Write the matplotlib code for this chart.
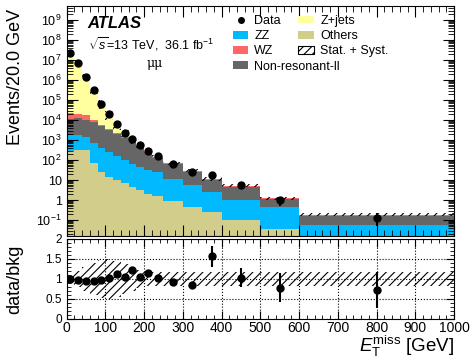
import numpy as np
import matplotlib
matplotlib.use("Agg")
from matplotlib import pyplot as plt
from matplotlib.patches import Patch
from matplotlib.lines import Line2D
from matplotlib.ticker import MultipleLocator, LogLocator, FuncFormatter, FormatStrFormatter, NullFormatter

plt.rcParams['font.family'] = ['Liberation Sans', 'DejaVu Sans']
plt.rcParams['mathtext.fontset'] = 'custom'
plt.rcParams['mathtext.rm'] = 'Liberation Sans'
plt.rcParams['mathtext.it'] = 'Liberation Sans:italic'
plt.rcParams['mathtext.bf'] = 'Liberation Sans:bold'
plt.rcParams['hatch.linewidth'] = 0.8

# bin edges in GeV
edges = [0, 20, 40, 60, 80, 100, 120, 140, 160, 180, 200, 220, 250, 300, 350, 400, 500, 600, 1000]

# backgrounds, events / 20 GeV
others = [282, 316, 316, 68, 26, 15, 10, 6.8, 4.7, 3.2, 2.1, 1.6, 0.89, 0.43, 0.26, 0.10, 0.034, 0.003]
zz = [1500, 1460, 1160, 690, 400, 250, 148, 93, 63, 44, 29.5, 23.5, 11.1, 5.2, 2.4, 0.97, 0.43, 0.057]
nonres = [10200, 11400, 9240, 7180, 4590, 2900, 1840, 1220, 730, 400, 192, 107, 51, 20.7, 7.4, 3.5, 0.63, 0.098]
wz = [11400, 8200, 7070, 2060, 880, 470, 295, 195, 97, 55, 27, 16, 7.7, 3.2, 1.2, 0.56, 0.13, 0.019]
zjets = [2.136e7, 7.74e6, 1.53e6, 3.21e5, 6.33e4, 1.59e4, 3330, 780, 21, 23, 6, 3, 1.6, 0.7, 0.2, 0.1, 0.05, 0.01]

# relative stat+syst uncertainty on the background
bkg_relerr = [0.13, 0.2, 0.3, 0.4, 0.48, 0.5, 0.45, 0.38, 0.3, 0.22, 0.17, 0.17, 0.17, 0.17, 0.18, 0.18, 0.18, 0.18]

# data
data = [2.16e7, 7.59e6, 1.46e6, 3.16e5, 6.76e4, 2.0e4, 6310, 2400, 1110, 550, 292, 156, 66.5, 25.4, 17.9, 5.4, 1.0, 0.135]
data_relerr = [0.001, 0.001, 0.002, 0.003, 0.005, 0.01, 0.015, 0.02, 0.03, 0.04, 0.05, 0.05, 0.06, 0.08, 0.17, 0.23, 0.47, 0.62]

col_others = '#d3cd8b'
col_zz = '#00b9ff'
col_wz = '#ff6666'
col_nonres = '#666666'
col_zjets = '#ffffa0'

edges = np.array(edges)
centers = 0.5 * (edges[1:] + edges[:-1])
widths = np.diff(edges)
total = np.array(others) + np.array(zz) + np.array(nonres) + np.array(wz) + np.array(zjets)
bkg_err = total * np.array(bkg_relerr)
data = np.array(data)
data_err = data * np.array(data_relerr)

fig = plt.figure(figsize=(4.72, 3.62), dpi=100)
ax1 = fig.add_axes([0.141, 0.348, 0.821, 0.635])
ax2 = fig.add_axes([0.141, 0.119, 0.821, 0.221])

# ---- main panel
ax1.hist([centers] * 5, bins=edges, weights=[others, zz, nonres, wz, zjets],
         stacked=True, histtype='stepfilled', linewidth=0,
         color=[col_others, col_zz, col_nonres, col_wz, col_zjets])
ax1.bar(edges[:-1], 2 * bkg_err, width=widths, bottom=total - bkg_err, align='edge',
        color='none', edgecolor='black', hatch='////', linewidth=0)
ax1.errorbar(centers, data, yerr=data_err, fmt='o', color='black', ms=5,
             elinewidth=1.5, capsize=0)

ax1.set_yscale('log')
ax1.set_xlim(0, 1000)
ax1.set_ylim(0.016, 5e9)
ax1.yaxis.set_major_locator(LogLocator(base=10, numticks=20))
ax1.yaxis.set_minor_locator(LogLocator(base=10, subs=np.arange(2, 10), numticks=20))
ax1.yaxis.set_minor_formatter(NullFormatter())


def log_label(v, pos):
    e = int(round(np.log10(v)))
    if e == 0:
        return '1'
    if e == 1:
        return '10'
    return '$10^{%d}$' % e


ax1.yaxis.set_major_formatter(FuncFormatter(log_label))
ax1.xaxis.set_major_locator(MultipleLocator(100))
ax1.xaxis.set_minor_locator(MultipleLocator(20))
ax1.tick_params(which='both', direction='in', top=True, right=True, labelbottom=False, labelsize=9)
ax1.tick_params(which='major', length=8)
ax1.tick_params(which='minor', length=4)

ax1.text(0.053, 0.924, 'ATLAS', transform=ax1.transAxes, fontsize=12,
         fontweight='bold', style='italic', va='center')
ax1.text(0.056, 0.835, r'$\sqrt{s}$=13 TeV,  36.1 fb$^{-1}$', transform=ax1.transAxes,
         fontsize=9, va='center')
ax1.text(0.228, 0.749, 'μμ', transform=ax1.transAxes, fontsize=9, va='center', ha='center',
         family=['DejaVu Serif'])

h_left = [Line2D([], [], marker='o', color='black', ls='none', ms=4),
          Patch(facecolor=col_zz), Patch(facecolor=col_wz), Patch(facecolor=col_nonres)]
leg1 = ax1.legend(h_left, ['Data', 'ZZ', 'WZ', 'Non-resonant-ll'], loc='upper left',
                  bbox_to_anchor=(0.43, 0.962), frameon=False, fontsize=9, borderpad=0,
                  borderaxespad=0, handlelength=1.2, handleheight=0.6, handletextpad=0.5,
                  labelspacing=0.26)
ax1.add_artist(leg1)
h_right = [Patch(facecolor=col_zjets), Patch(facecolor=col_others),
           Patch(facecolor='white', edgecolor='black', hatch='////', linewidth=0.8)]
ax1.legend(h_right, ['Z+jets', 'Others', 'Stat. + Syst.'], loc='upper left',
           bbox_to_anchor=(0.597, 0.962), frameon=False, fontsize=9, borderpad=0,
           borderaxespad=0, handlelength=1.3, handleheight=0.6, handletextpad=0.5,
           labelspacing=0.26)

# ---- ratio panel
ratio = data / total
ratio_err = data_err / total
band = np.array(bkg_relerr)
ax2.bar(edges[:-1], 2 * band, width=widths, bottom=1 - band, align='edge',
        color='none', edgecolor='black', hatch='////', linewidth=0)
ax2.errorbar(centers, ratio, yerr=ratio_err, fmt='o', color='black', ms=5,
             elinewidth=1.5, capsize=0)
ax2.set_xlim(0, 1000)
ax2.set_ylim(0, 2)
ax2.xaxis.set_major_locator(MultipleLocator(100))
ax2.xaxis.set_minor_locator(MultipleLocator(20))
ax2.yaxis.set_major_locator(MultipleLocator(0.5))
ax2.yaxis.set_minor_locator(MultipleLocator(0.1))
ax2.yaxis.set_major_formatter(FormatStrFormatter('%g'))
ax2.grid(True, which='major', ls=':', color='black', lw=0.8)
ax2.tick_params(which='both', direction='in', top=True, right=True)
ax2.tick_params(axis='x', which='major', length=6, labelsize=10, pad=1.5)
ax2.tick_params(axis='y', which='major', length=6, labelsize=8.5)
ax2.tick_params(which='minor', length=3)

fig.text(0.032, 0.975, 'Events/20.0 GeV', rotation=90, ha='center', va='top', fontsize=13)
fig.text(0.032, 0.229, 'data/bkg', rotation=90, ha='center', va='center', fontsize=13)
fig.text(0.962, 0.027, r'$E_{\mathrm{T}}^{\mathrm{miss}}$ [GeV]', ha='right', va='baseline', fontsize=13.5)

fig.savefig('out.png', dpi=100)
